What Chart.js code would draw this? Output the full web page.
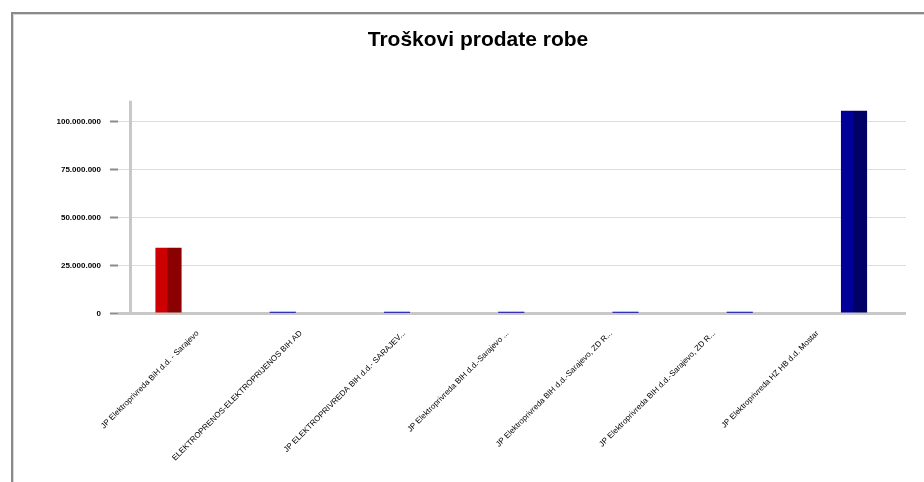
<!DOCTYPE html>
<html>
<head>
<meta charset="utf-8">
<title>Troškovi prodate robe</title>
<script src="https://cdn.jsdelivr.net/npm/chart.js@4.4.1/dist/chart.umd.min.js"></script>
<style>
  html, body { margin: 0; padding: 0; background: #fff; overflow: hidden; }
  #frame {
    position: absolute; left: 11px; top: 12px; width: 1000px; height: 1000px;
    border-top: 2px solid #8a8a8a; border-left: 2px solid #8a8a8a;
    box-shadow: inset 1px 1px 0 #d8d8d8;
  }
  #chart { position: absolute; left: 0; top: 0; }
</style>
</head>
<body>
<div id="frame"></div>
<canvas id="chart" width="924" height="482"></canvas>
<script>
var categories = [
  'JP Elektroprivreda BiH d.d. - Sarajevo',
  'ELEKTROPRENOS-ELEKTROPRIJENOS BIH AD',
  'JP ELEKTROPRIVREDA BIH d.d.- SARAJEV...',
  'JP Elektroprivreda BIH d.d.-Sarajevo ...',
  'JP Elektroprivreda BIH d.d.-Sarajevo, ZD R...',
  'JP Elektroprivreda BIH d.d.-Sarajevo, ZD R...',
  'JP Elektroprivreda HZ HB d.d. Mostar'
];
var values = [34200000, 700000, 700000, 700000, 700000, 700000, 105600000];
var lightColors = ['#cc0000', '#0000b0', '#0000b0', '#0000b0', '#0000b0', '#0000b0', '#000099'];
var darkColors = ['#8b0000', '#0000b0', '#0000b0', '#0000b0', '#0000b0', '#0000b0', '#000066'];
var yTicks = [0, 25000000, 50000000, 75000000, 100000000];

function formatNumber(v) {
  return String(v).replace(/\B(?=(\d{3})+(?!\d))/g, '.');
}

// two tone bar: lighter left part, darker right part
function barColor(context) {
  var chart = context.chart;
  var i = context.dataIndex;
  if (!chart.chartArea || !chart.scales.x) {
    return lightColors[i];
  }
  var c = chart.scales.x.getPixelForValue(i);
  var g = chart.ctx.createLinearGradient(c - 1.5, 0, c - 0.5, 0);
  g.addColorStop(0, lightColors[i]);
  g.addColorStop(1, darkColors[i]);
  return g;
}

var yAxisLine = {
  id: 'yAxisLine',
  beforeDatasetsDraw: function(chart) {
    var ctx = chart.ctx, area = chart.chartArea;
    ctx.save();
    ctx.strokeStyle = '#c8c8c8';
    ctx.lineWidth = 3;
    ctx.beginPath();
    ctx.moveTo(area.left + 12.5, area.top);
    ctx.lineTo(area.left + 12.5, area.bottom);
    ctx.stroke();
    ctx.restore();
  }
};

var ctx = document.getElementById('chart').getContext('2d');

new Chart(ctx, {
  type: 'bar',
  data: {
    datasets: [{
      data: values.map(function(v, i) { return { x: i, y: v }; }),
      backgroundColor: barColor,
      borderWidth: 0,
      barThickness: 25.5,
      xAxisID: 'x',
      yAxisID: 'y'
    }]
  },
  plugins: [yAxisLine],
  options: {
    responsive: false,
    animation: false,
    layout: { padding: { left: 50, right: 18, top: 0, bottom: 0 } },
    plugins: {
      legend: { display: false },
      tooltip: { enabled: false },
      title: {
        display: true,
        text: 'Troškovi prodate robe',
        color: '#000',
        font: { family: 'Arial, "Liberation Sans", sans-serif', size: 21, weight: 'bold', lineHeight: 1.2 },
        padding: { top: 27.4, bottom: 48.1 }
      }
    },
    scales: {
      x: {
        type: 'linear',
        display: false,
        offset: false,
        min: -0.442,
        max: 6.455
      },
      xl: {
        type: 'linear',
        position: 'bottom',
        offset: false,
        min: -0.7703,
        max: 6.856,
        afterBuildTicks: function(axis) {
          axis.ticks = categories.map(function(c, i) { return { value: i }; });
        },
        afterFit: function(axis) { axis.height = 168.3; },
        grid: { display: false, drawTicks: false, offset: false },
        border: { display: false },
        ticks: {
          autoSkip: false,
          minRotation: 45,
          maxRotation: 45,
          padding: 15,
          color: '#000',
          font: { family: 'Arial, "Liberation Sans", sans-serif', size: 8 },
          callback: function(v) { return categories[v]; }
        }
      },
      y: {
        type: 'linear',
        min: 0,
        max: 111000000,
        afterBuildTicks: function(axis) {
          axis.ticks = yTicks.map(function(v) { return { value: v }; });
        },
        afterFit: function(axis) { axis.width = 68; },
        border: { display: false },
        grid: {
          color: function(c) { return c.tick && c.tick.value === 0 ? '#c8c8c8' : '#dcdcdc'; },
          lineWidth: function(c) { return c.tick && c.tick.value === 0 ? 3 : 1; },
          tickColor: '#8c8c8c',
          tickLength: 8,
          tickWidth: 2
        },
        ticks: {
          padding: 9,
          color: '#000',
          font: { family: 'Arial, "Liberation Sans", sans-serif', size: 8, weight: 'bold' },
          callback: function(v) { return formatNumber(v); }
        }
      }
    }
  }
});
</script>
</body>
</html>
